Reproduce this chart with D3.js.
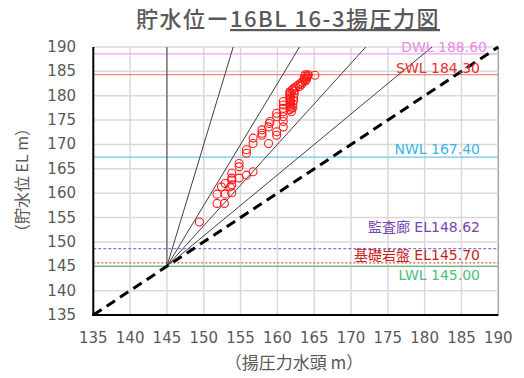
<!DOCTYPE html>
<html>
<head>
<meta charset="utf-8">
<script src="https://cdn.jsdelivr.net/npm/d3@7"></script>
<style>
  html, body { margin: 0; padding: 0; background: #fff; }
  svg { display: block; }
</style>
</head>
<body>
<svg id="chart" width="524" height="378"></svg>
<script>
// Axis ticks (m)
const xTicks = [135, 140, 145, 150, 155, 160, 165, 170, 175, 180, 185, 190];
const yTicks = [135, 140, 145, 150, 155, 160, 165, 170, 175, 180, 185, 190];

// Observed uplift head (m) and reservoir level (m)
const upliftHead = [
  149.4,
  151.8, 152.8, 151.8, 152.9, 153.8,
  152.4, 153.6, 152.9, 153.8, 153.8, 153.8, 154.8,
  153.8, 155.8, 156.7, 154.8, 154.8, 155.8, 155.8,
  156.7, 156.7, 157.9, 157.9, 157.9, 158.8, 159.9, 159.9,
  158.8, 158.9, 159.0, 160.8, 160.8, 159.9, 160.8, 159.9,
  160.8, 160.8, 160.8, 160.8,
  161.9, 161.9, 161.8, 161.8, 161.7, 161.7, 161.7, 161.7, 161.7, 161.7, 161.7, 161.7, 161.7,
  162.1, 162.1, 162.2, 162.2, 162.3, 162.3,
  162.0, 162.2, 162.5, 162.8, 163.1, 163.4, 163.0, 163.3,
  163.8, 163.9, 164.0, 164.0, 164.1, 164.2, 163.8, 163.6, 163.7,
  165.1
];
const reservoirLevel = [
  154.1,
  157.9, 157.9, 159.8, 159.8, 160.1,
  161.3, 161.3, 162.0, 161.7, 162.7, 163.1, 163.1,
  164.1, 163.7, 164.4, 165.4, 166.1, 168.2, 168.9,
  170.2, 171.3, 171.9, 172.3, 173.0, 170.2, 171.9, 172.6,
  173.6, 174.3, 174.7, 173.6, 174.7, 175.7, 175.7, 176.4,
  176.7, 177.4, 178.1, 178.8,
  176.7, 177.4, 178.1, 178.8, 177.1, 177.8, 178.5, 179.2, 179.5, 179.9, 180.2, 180.5, 180.8,
  177.6, 178.3, 179.0, 179.7, 180.4, 181.0,
  181.2, 181.5, 181.8, 182.2, 182.5, 182.8, 181.9, 182.3,
  183.0, 183.3, 183.6, 183.9, 184.1, 184.3, 184.3, 183.4, 184.0,
  184.2
];

// Reference water levels
const refNames  = ["DWL 188.60", "SWL 184.30", "NWL 167.40", "監査廊 EL148.62", "基礎岩盤 EL145.70", "LWL 145.00"];
const refValues = [188.60, 184.30, 167.40, 148.62, 145.70, 145.00];

// Uplift ratio lines from the foundation origin (head = origin + ratio × (level − origin))
const fanOrigin = 145;
const fanRatios = [0, 0.2, 0.4, 0.6, 0.8];

const svg = d3.select("#chart");
const x = d3.scaleLinear().domain([135, 190]).range([93.3, 498.3]);
const y = d3.scaleLinear().domain([135, 190]).range([315, 47]);

const numFont = "'DejaVu Sans', 'Noto Sans CJK JP', sans-serif";
const jpFont = "'DejaVu Sans', 'Noto Sans CJK JP', sans-serif";

// Grid
const grid = svg.append("g");
grid.selectAll("line.v").data(xTicks.slice(1)).join("line")
  .attr("x1", d => x(d)).attr("x2", d => x(d))
  .attr("y1", y(190)).attr("y2", y(135))
  .attr("stroke", d => d === 190 ? "#a6a6a6" : "#d9d9d9").attr("stroke-width", 1.5);
grid.selectAll("line.h").data(yTicks.slice(1)).join("line")
  .attr("x1", x(135)).attr("x2", x(190))
  .attr("y1", d => y(d)).attr("y2", d => y(d))
  .attr("stroke", "#d9d9d9").attr("stroke-width", 1.5);

// Reference level lines; labelDy places each label relative to its line
const refStyles = [
  { line: "#f0a6ee", text: "#e68be6", dash: null, labelDy: -2 },
  { line: "#f06a6a", text: "#e8302c", dash: null, labelDy: -2 },
  { line: "#6cc8e0", text: "#3cb4e2", dash: null, labelDy: -3 },
  { line: "#8a74d6", text: "#7a44b0", dash: "3,2", labelDy: -17 },
  { line: "#e05050", text: "#c81e1e", dash: "2,2", labelDy: -3 },
  { line: "#46b46a", text: "#4cc07a", dash: null, labelDy: 14 }
];
svg.append("g").selectAll("line").data(refValues).join("line")
  .attr("x1", x(135)).attr("x2", x(190))
  .attr("y1", d => y(d)).attr("y2", d => y(d))
  .attr("stroke", (d, i) => refStyles[i].line)
  .attr("stroke-width", 1.2)
  .attr("stroke-dasharray", (d, i) => refStyles[i].dash);

// Fan of uplift ratio lines
const fanEnd = r => {
  // end point on the top edge or the right edge of the plot
  const topHead = fanOrigin + r * (190 - fanOrigin);
  if (topHead <= 190) return [topHead, 190];
  return [190, fanOrigin + (190 - fanOrigin) / r];
};
svg.append("g").selectAll("line").data(fanRatios).join("line")
  .attr("x1", x(fanOrigin)).attr("y1", y(fanOrigin))
  .attr("x2", d => x(fanEnd(d)[0])).attr("y2", d => y(fanEnd(d)[1]))
  .attr("stroke", "#404040").attr("stroke-width", 1);

// 1:1 line
svg.append("line")
  .attr("x1", x(135)).attr("y1", y(135))
  .attr("x2", x(190)).attr("y2", y(190))
  .attr("stroke", "#000").attr("stroke-width", 3)
  .attr("stroke-dasharray", "10,6");

// Axis frame
svg.append("line").attr("x1", x(135)).attr("x2", x(135)).attr("y1", y(190)).attr("y2", y(135) + 1)
  .attr("stroke", "#000").attr("stroke-width", 2);
svg.append("line").attr("x1", x(135) - 1).attr("x2", x(190)).attr("y1", y(135)).attr("y2", y(135))
  .attr("stroke", "#000").attr("stroke-width", 2);

// Observations
svg.append("g").selectAll("circle").data(upliftHead).join("circle")
  .attr("cx", d => x(d))
  .attr("cy", (d, i) => y(reservoirLevel[i]))
  .attr("r", 4)
  .attr("fill", "none")
  .attr("stroke", "#ff1a1a")
  .attr("stroke-width", 1.1);

// Reference labels
svg.append("g").selectAll("text").data(refNames).join("text")
  .attr("x", (d, i) => i === 0 ? 487 : 480)
  .attr("y", (d, i) => y(refValues[i]) + refStyles[i].labelDy)
  .attr("text-anchor", "end")
  .attr("font-family", jpFont)
  .attr("font-size", 14)
  .attr("fill", (d, i) => refStyles[i].text)
  .text(d => d);

// Tick labels
svg.append("g").selectAll("text").data(yTicks).join("text")
  .attr("x", 76).attr("y", d => y(d) + 5)
  .attr("text-anchor", "end")
  .attr("font-family", numFont).attr("font-size", 15)
  .attr("fill", "#595959")
  .text(d => d);
svg.append("g").selectAll("text").data(xTicks).join("text")
  .attr("x", d => x(d)).attr("y", 343)
  .attr("text-anchor", "middle")
  .attr("font-family", numFont).attr("font-size", 15)
  .attr("fill", "#595959")
  .text(d => d);

// Axis titles
svg.append("text")
  .attr("x", 294).attr("y", 369)
  .attr("text-anchor", "middle")
  .attr("font-family", "'Noto Sans CJK JP', sans-serif").attr("font-size", 17)
  .attr("fill", "#595959")
  .text("（揚圧力水頭 m）");
svg.append("text")
  .attr("transform", "translate(28,180) rotate(-90)")
  .attr("text-anchor", "middle")
  .attr("font-family", "'Noto Sans CJK JP', sans-serif").attr("font-size", 16)
  .attr("fill", "#595959")
  .text("（貯水位 EL m）");

// Title
const title = svg.append("text")
  .attr("x", 288).attr("y", 27)
  .attr("text-anchor", "middle")
  .attr("font-family", "'Noto Sans CJK JP', sans-serif").attr("font-size", 22)
  .attr("font-weight", 500)
  .attr("letter-spacing", 1.5)
  .attr("fill", "#595959");
title.append("tspan").text("貯水位ー");
title.append("tspan").attr("text-decoration", "underline").text("16BL 16-3揚圧力図");
</script>
</body>
</html>
